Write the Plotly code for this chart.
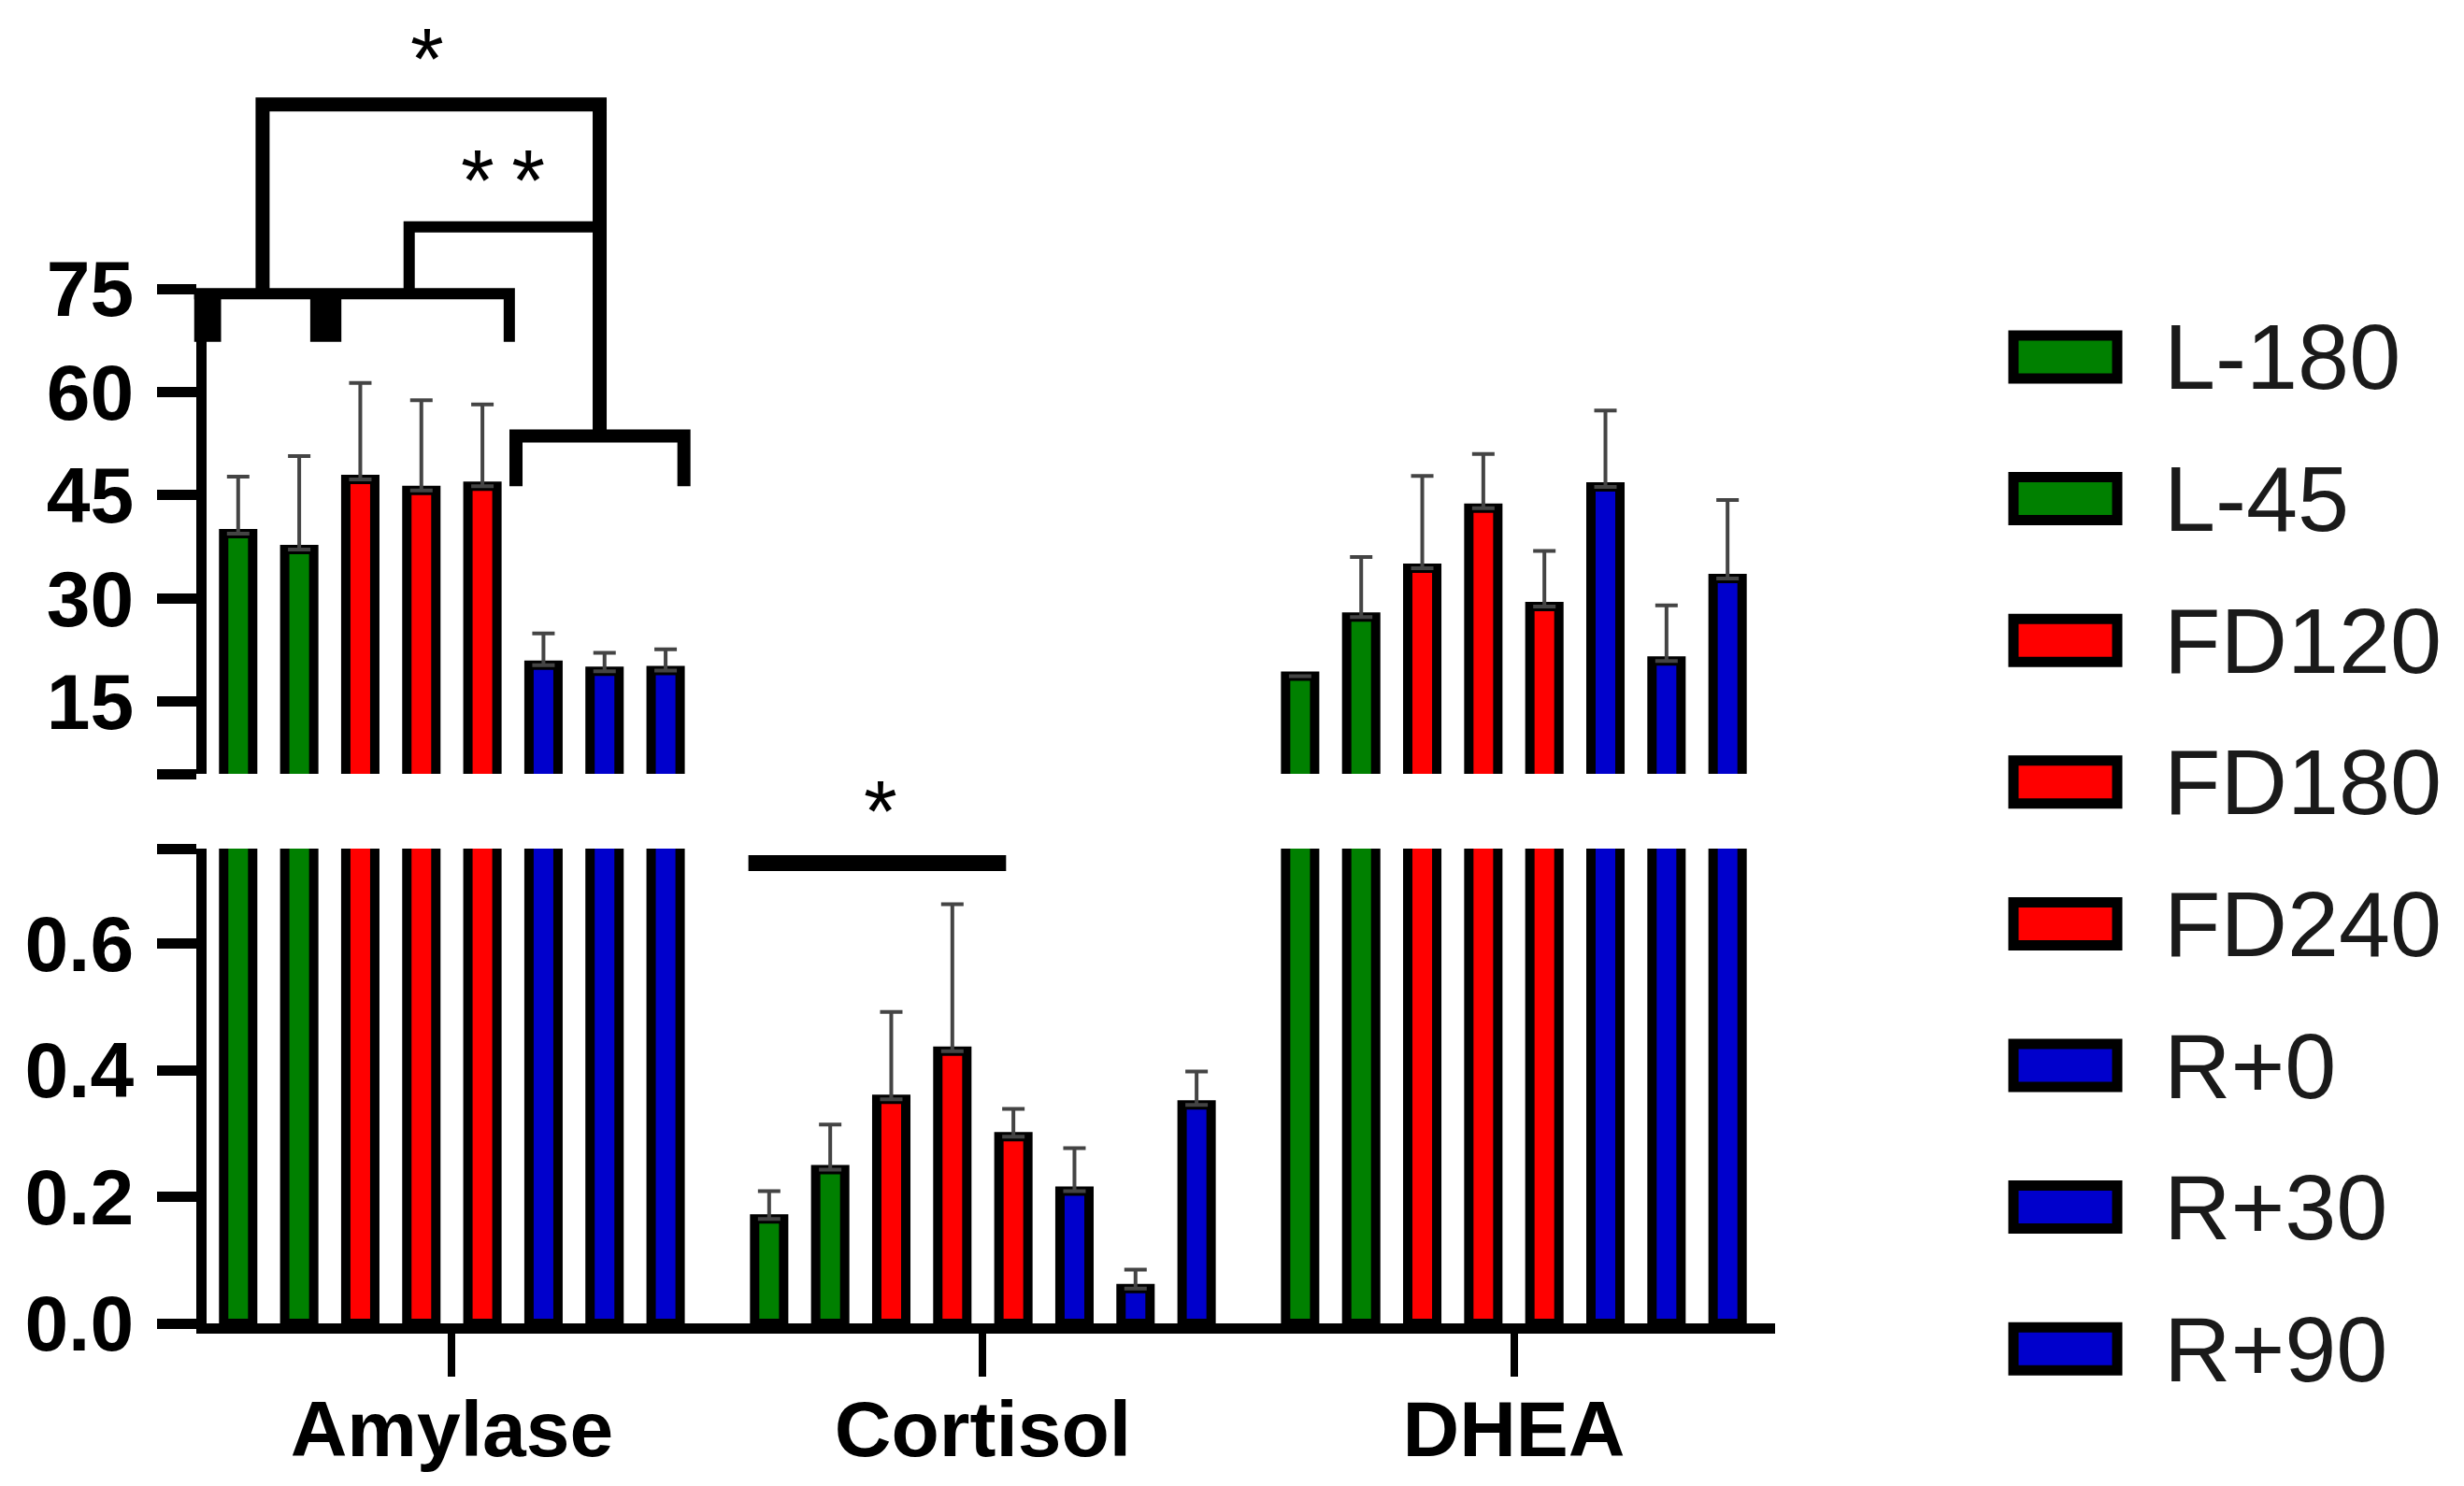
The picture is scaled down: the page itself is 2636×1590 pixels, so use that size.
import plotly.graph_objects as go

# ---------------- data ----------------
categories = ["Amylase", "Cortisol", "DHEA"]
series = ["L-180", "L-45", "FD120", "FD180", "FD240", "R+0", "R+30", "R+90"]
colors = ["#008000", "#008000", "#FF0000", "#FF0000", "#FF0000", "#0000CC", "#0000CC", "#0000CC"]

amylase_mean = [39.4, 37.1, 47.3, 45.7, 46.3, 20.3, 19.4, 19.5]
amylase_err = [8.3, 13.6, 14.0, 13.1, 11.9, 4.6, 2.7, 3.1]
cortisol_mean = [0.165, 0.243, 0.354, 0.430, 0.295, 0.209, 0.055, 0.345]
cortisol_err = [0.044, 0.071, 0.138, 0.232, 0.044, 0.068, 0.030, 0.053]
dhea_mean = [18.7, 27.3, 34.4, 43.1, 28.8, 46.2, 20.9, 32.9]
dhea_err = [None, 8.7, 13.4, 7.9, 8.1, 11.1, 8.1, 11.4]

upper_ticks = [15, 30, 45, 60, 75]
upper_labels = ["15", "30", "45", "60", "75"]
lower_ticks = [0.0, 0.2, 0.4, 0.6]
lower_labels = ["0.0", "0.2", "0.4", "0.6"]

# ---------------- layout constants ----------------
W, H = 2636, 1590
ML, MR, MT, MB = 213, 745, 301, 182
PW, PH = W - ML - MR, H - MT - MB
LO_TOP_PX, UP_BOT_PX = 900, 820
D1 = (H - MB - LO_TOP_PX) / PH
D2 = (H - MB - UP_BOT_PX) / PH
UP_RANGE = [4.5, 75]
LO_RANGE = [0, 0.75]
XR = [-0.462, 2.492]
BARGAP, GROUPGAP = 0.08, 0.525
FONT = "Liberation Sans, Arial, Helvetica, sans-serif"

fig = go.Figure()
for i, name in enumerate(series):
    yv = [amylase_mean[i], cortisol_mean[i], dhea_mean[i]]
    ev = [amylase_err[i], cortisol_err[i], dhea_err[i]]
    for ax in ["y", "y2"]:
        fig.add_trace(go.Bar(
            x=categories, y=yv, name=name, yaxis=ax, showlegend=False,
            marker=dict(color=colors[i], line=dict(color="black", width=10)),
            error_y=dict(type="data", symmetric=False, array=ev,
                         arrayminus=[0, 0, 0], color="#444444",
                         thickness=4, width=12),
        ))

SLOT = (1 - BARGAP) / len(series)


def sx(group, slot):
    return group + (slot - (len(series) - 1) / 2) * SLOT


def px(xd):
    return (xd - XR[0]) / (XR[1] - XR[0])


def pyu(v):
    return D2 + (v - UP_RANGE[0]) / (UP_RANGE[1] - UP_RANGE[0]) * (1 - D2)


def pyl(v):
    return D1 * (v - LO_RANGE[0]) / (LO_RANGE[1] - LO_RANGE[0])


def pt(g, s, v, f):
    return f"{px(sx(g, s)):.5f},{f(v):.5f}"


shapes = []


def path(points, width):
    d = "M" + " L".join(points)
    shapes.append(dict(type="path", xref="paper", yref="paper", path=d,
                       line=dict(color="black", width=width)))


def block(g, s0, s1, v0, v1):
    shapes.append(dict(type="rect", xref="paper", yref="paper",
                       x0=px(sx(g, s0)), x1=px(sx(g, s1)), y0=pyu(v0), y1=pyu(v1),
                       fillcolor="black", line=dict(width=0)))


# Amylase significance brackets
path([pt(0, -0.72, 74.3, pyu), pt(0, 4.44, 74.3, pyu), pt(0, 4.44, 67.3, pyu)], 12)
block(0, -0.72, -0.28, 67.3, 74.3)
block(0, 1.18, 1.69, 67.3, 74.3)
path([pt(0, 0.4, 74.3, pyu), pt(0, 0.4, 101.8, pyu), pt(0, 5.92, 101.8, pyu),
      pt(0, 5.92, 53.6, pyu)], 15)
path([pt(0, 2.8, 74.3, pyu), pt(0, 2.8, 84.0, pyu), pt(0, 5.92, 84.0, pyu)], 12)
path([pt(0, 4.55, 46.3, pyu), pt(0, 4.55, 53.6, pyu), pt(0, 7.3, 53.6, pyu),
      pt(0, 7.3, 46.3, pyu)], 14)
# Cortisol bracket
path([pt(1, -0.34, 0.727, pyl), pt(1, 3.88, 0.727, pyl)], 17)

annotations = []
STAR = dict(family=FONT, size=92, color="black")
# top star: anchored by its top edge just inside the canvas
annotations.append(dict(text="*", xref="paper", yref="paper", x=px(sx(0, 3.1)),
                        y=(H - MB - 2) / PH,
                        showarrow=False, font=STAR, xanchor="center", yanchor="top"))
annotations.append(dict(text="*\u2009*", xref="paper", yref="paper", x=px(sx(0, 4.33)), y=pyu(91.9),
                        showarrow=False, font=STAR, xanchor="center", yanchor="middle", yshift=-8))
annotations.append(dict(text="*", xref="paper", yref="paper", x=px(sx(1, 1.83)), y=pyl(0.821),
                        showarrow=False, font=STAR, xanchor="center", yanchor="middle", yshift=-8))

# manual legend (wide boxes like the original)
for i, name in enumerate(series):
    yc = (H - MB - (374 + i * 151.6)) / PH
    shapes.append(dict(type="rect", xref="paper", yref="paper",
                       x0=(2146 - ML) / PW, x1=(2257 - ML) / PW,
                       y0=yc - 23 / PH, y1=yc + 23 / PH,
                       fillcolor=colors[i], line=dict(color="black", width=11)))
    annotations.append(dict(text=name, xref="paper", yref="paper",
                            x=(2305 - ML) / PW, y=yc, xanchor="left", yanchor="middle",
                            showarrow=False, font=dict(family=FONT, size=99, color="#1a1a1a")))

TICKFONT = dict(family=FONT, size=84, color="black", weight="bold")
axis_common = dict(showline=True, linecolor="black", linewidth=11, ticks="outside",
                   ticklen=42, tickwidth=11, tickcolor="black", showgrid=False,
                   zeroline=False, tickfont=TICKFONT)

xaxis_style = dict(axis_common)
xaxis_style.update(tickwidth=8, ticklen=46)

fig.update_layout(
    width=W, height=H, margin=dict(l=ML, r=MR, t=MT, b=MB, autoexpand=False),
    paper_bgcolor="white", plot_bgcolor="white",
    barmode="group", bargap=BARGAP, bargroupgap=GROUPGAP,
    showlegend=False,
    xaxis=dict(type="category", range=XR, anchor="y", domain=[0, 1],
               ticklabelstandoff=-16, **xaxis_style),
    yaxis=dict(domain=[0, D1], range=LO_RANGE, anchor="x",
               tickvals=lower_ticks + [LO_RANGE[1]], ticktext=lower_labels + [""],
               ticklabelstandoff=8, **axis_common),
    yaxis2=dict(domain=[D2, 1], range=UP_RANGE, anchor="x",
                tickvals=[UP_RANGE[0]] + upper_ticks, ticktext=[""] + upper_labels,
                ticklabelstandoff=8, **axis_common),
    shapes=shapes, annotations=annotations,
)

fig.write_html("out.html")
